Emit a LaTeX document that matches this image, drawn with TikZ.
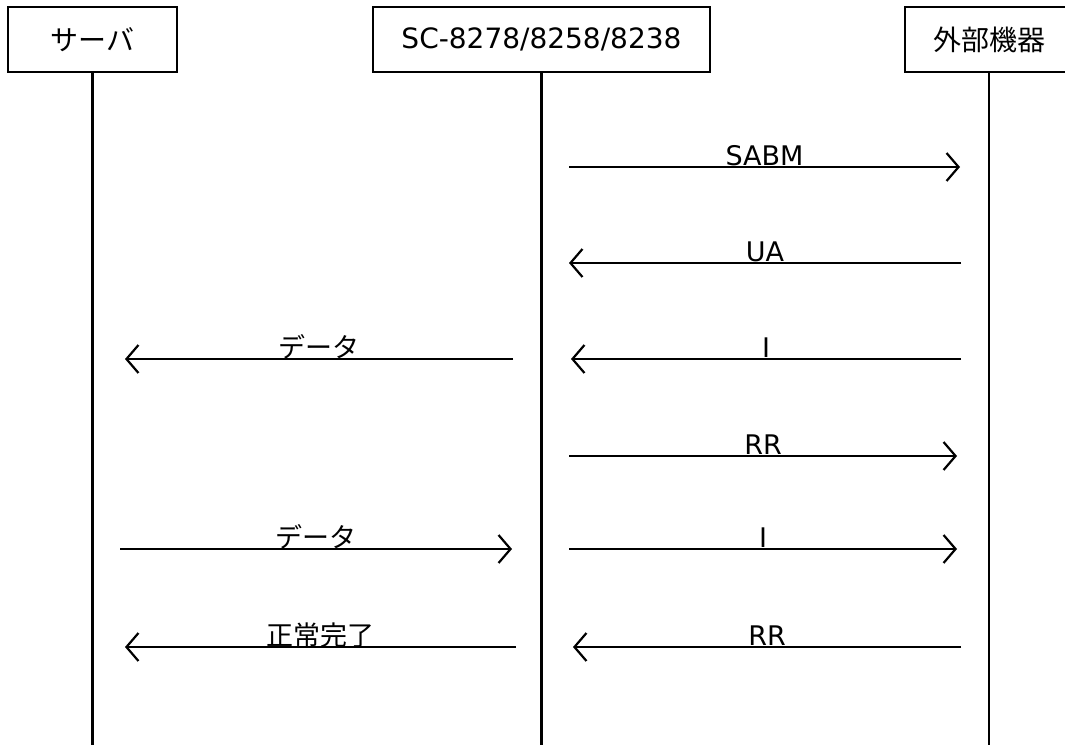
\documentclass[tikz,border=0pt]{standalone}
\usepackage{fontspec}
\setmainfont{DejaVu Sans}
\newfontfamily\jp{Noto Sans CJK JP}
\usetikzlibrary{arrows.meta}
\begin{document}
\begin{tikzpicture}[x=1pt,y=-1pt,
  actor/.style={draw, line width=2.4pt, minimum height=65pt, inner sep=0pt, font=\fontsize{28}{30}\selectfont},
  life/.style={line width=2.4pt},
  msg/.style={line width=2.4pt, -{Straight Barb[length=12pt,width=28pt,line width=2.2pt]}},
  lbl/.style={anchor=base, inner sep=0pt, yshift=2pt, font=\fontsize{27}{30}\selectfont}]
\useasboundingbox (0,0) rectangle (1065,747);
\clip (0,0) rectangle (1065,747);
% actors
\node[actor, minimum width=169pt] (srv) at (92.5,39.5) {\jp サーバ};
\node[actor, minimum width=337pt] (sc) at (541.5,39.5) {SC-8278/8258/8238};
\node[actor, minimum width=168pt] (ext) at (989,39.5) {\jp 外部機器};
% lifeline ends
\coordinate (srvE) at (92.5,745);
\coordinate (scE) at (541.5,745);
\coordinate (extE) at (989,745);
\draw[life] (srv.south) -- (srvE);
\draw[life] (sc.south) -- (scE);
\draw[life] (ext.south) -- (extE);
% message end points
\coordinate (m1a) at (569,167); \coordinate (m1b) at (960,167);
\coordinate (m2a) at (961,263); \coordinate (m2b) at (569,263);
\coordinate (m3a) at (513,359); \coordinate (m3b) at (125,359);
\coordinate (m4a) at (961,359); \coordinate (m4b) at (571,359);
\coordinate (m5a) at (569,456); \coordinate (m5b) at (957,456);
\coordinate (m6a) at (120,549); \coordinate (m6b) at (512,549);
\coordinate (m7a) at (569,549); \coordinate (m7b) at (957,549);
\coordinate (m8a) at (516,647); \coordinate (m8b) at (125,647);
\coordinate (m9a) at (961,647); \coordinate (m9b) at (573,647);
% messages
\draw[msg] (m1a) -- node[lbl] (l1) {SABM} (m1b);
\draw[msg] (m2a) -- node[lbl] (l2) {UA} (m2b);
\draw[msg] (m3a) -- node[lbl] (l3) {\jp データ} (m3b);
\draw[msg] (m4a) -- node[lbl] (l4) {I} (m4b);
\draw[msg] (m5a) -- node[lbl] (l5) {RR} (m5b);
\draw[msg] (m6a) -- node[lbl] (l6) {\jp データ} (m6b);
\draw[msg] (m7a) -- node[lbl] (l7) {I} (m7b);
\draw[msg] (m8a) -- node[lbl] (l8) {\jp 正常完了} (m8b);
\draw[msg] (m9a) -- node[lbl] (l9) {RR} (m9b);
\end{tikzpicture}
\end{document}
